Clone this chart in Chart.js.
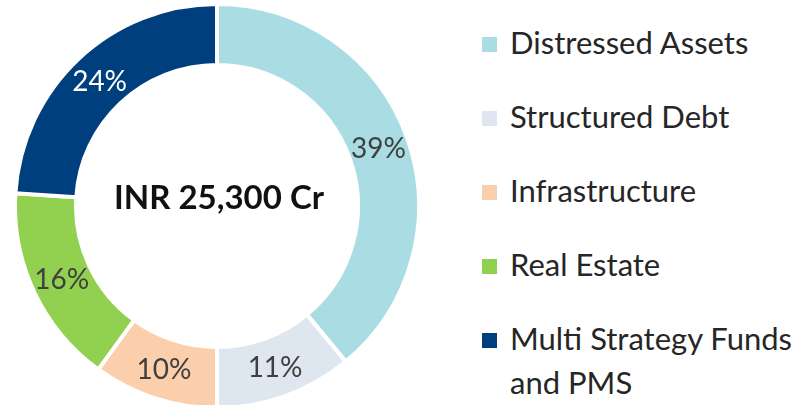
<!DOCTYPE html>
<html>
<head>
<meta charset="utf-8">
<script src="https://cdn.jsdelivr.net/npm/chart.js@4.4.1/dist/chart.umd.min.js"></script>
<style>
  html, body { margin: 0; padding: 0; background: #fff; overflow: hidden; }
  body { width: 808px; height: 405px; position: relative; font-family: Lato, "Open Sans", sans-serif; }
  #wrap { position: absolute; left: 13px; top: 2px; width: 408px; height: 408px; }
  #legend { position: absolute; left: 482px; top: 20px; margin: 0; padding: 0; list-style: none; }
  #legend li { position: relative; height: 74px; padding-left: 28px; font-size: 31px; line-height: 44px; color: #262626; white-space: nowrap; }
  #legend li span.box { position: absolute; left: 0; top: 17px; width: 15px; height: 15px; }
</style>
</head>
<body>
<div id="wrap"><canvas id="donut"></canvas></div>
<ul id="legend"></ul>
<script>
// chart data
const categories = ['Distressed Assets', 'Structured Debt', 'Infrastructure', 'Real Estate', ['Multi Strategy Funds', 'and PMS']];
const shares = [39, 11, 10, 16, 24];
const colors = ['#A9DCE3', '#DEE6EF', '#FBCFAC', '#92D050', '#003F7D'];
const labelColors = ['#404040', '#404040', '#404040', '#404040', '#FFFFFF'];
const centerText = 'INR 25,300 Cr';

// legend on the right, built from the same arrays
const legend = document.querySelector('#legend');
categories.forEach((cat, i) => {
    const li = document.createElement('li');
    const box = document.createElement('span');
    box.className = 'box';
    box.style.background = colors[i];
    li.appendChild(box);
    const lines = Array.isArray(cat) ? cat : [cat];
    lines.forEach((line, j) => {
        if (j > 0) li.appendChild(document.createElement('br'));
        li.appendChild(document.createTextNode(line));
    });
    legend.appendChild(li);
});

// percent labels on each slice + the total in the hole
const sliceLabels = {
    id: 'sliceLabels',
    afterDatasetsDraw(chart) {
        const ctx = chart.ctx;
        const meta = chart.getDatasetMeta(0);
        ctx.save();
        ctx.textAlign = 'center';
        ctx.textBaseline = 'middle';
        ctx.font = '28px Lato, "Open Sans", sans-serif';
        meta.data.forEach((arc, i) => {
            const pos = arc.tooltipPosition();
            ctx.fillStyle = labelColors[i];
            ctx.fillText(shares[i] + '%', pos.x, pos.y + 1);
        });
        const first = meta.data[0];
        ctx.font = 'bold 33px Lato, "Open Sans", sans-serif';
        ctx.fillStyle = '#111111';
        ctx.fillText(centerText, first.x + 2, first.y - 8);
        ctx.restore();
    }
};

const donutCanvas = document.querySelector('#donut');
new Chart(donutCanvas.getContext('2d'), {
    type: 'doughnut',
    data: {
        labels: categories,
        datasets: [{
            data: shares,
            backgroundColor: colors,
            borderColor: '#FFFFFF',
            borderWidth: 4
        }]
    },
    options: {
        responsive: true,
        maintainAspectRatio: false,
        animation: false,
        cutout: '69.8%',
        layout: { padding: 0 },
        plugins: {
            legend: { display: false },
            tooltip: { enabled: false }
        }
    },
    plugins: [sliceLabels]
});
</script>
</body>
</html>
